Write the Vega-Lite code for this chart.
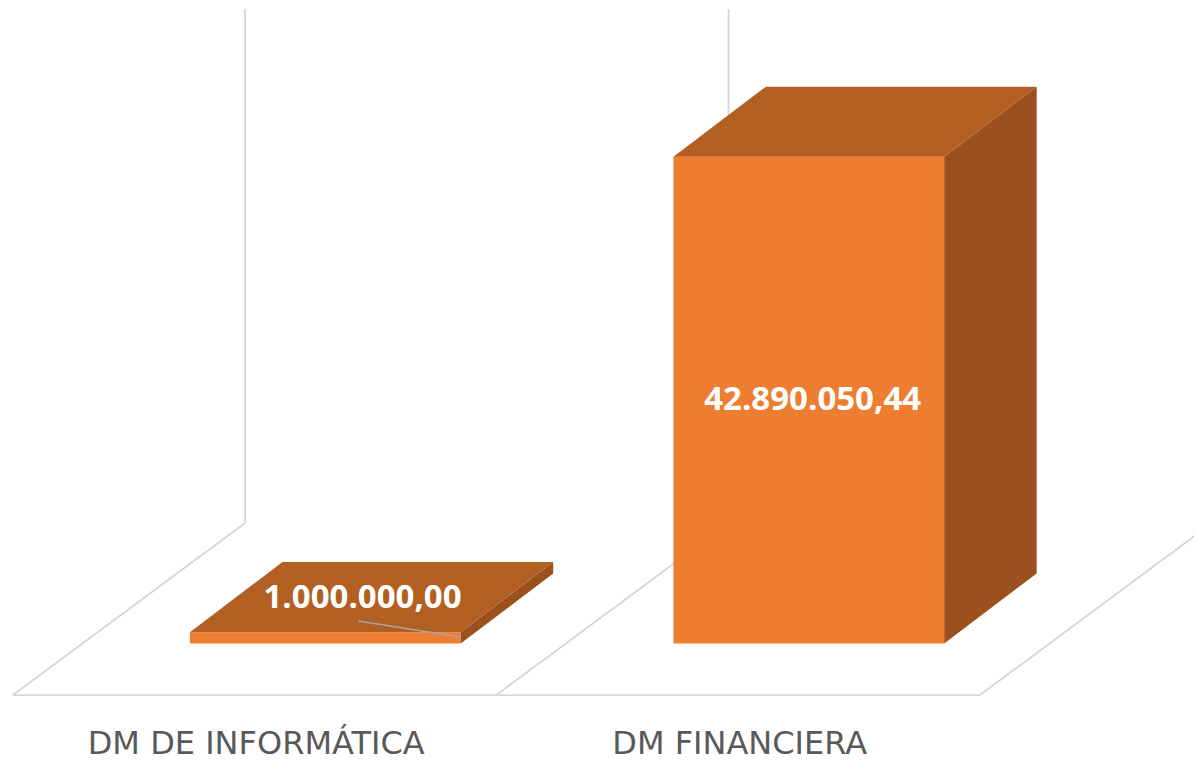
{
  "$schema": "https://vega.github.io/schema/vega-lite/v6.json",
  "width": 1194,
  "height": 762,
  "padding": 0,
  "autosize": {"type": "none"},
  "background": "white",
  "config": {
    "view": {"stroke": null},
    "locale": {"number": {"decimal": ",", "thousands": ".", "grouping": [3], "currency": ["", " €"]}}
  },
  "datasets": {
    "importes": [
      {"departamento": "DM DE INFORMÁTICA", "importe": 1000000},
      {"departamento": "DM FINANCIERA", "importe": 42890050.44}
    ],
    "marco": [{}]
  },
  "data": {"name": "importes"},
  "layer": [
    {
      "data": {"name": "marco"},
      "transform": [
        {"fold": ["w1", "w2", "f1", "f2", "f3", "f4"], "as": ["linea", "dummy"]},
        {"calculate": "{'w1': 0.834, 'w2': 1.834, 'f1': 0.354, 'f2': 1.354, 'f3': 2.354, 'f4': 0.354}[datum.linea]", "as": "ax"},
        {"calculate": "{'w1': 0.834, 'w2': 1.834, 'f1': 0.834, 'f2': 1.834, 'f3': 2.834, 'f4': 2.354}[datum.linea]", "as": "bx"},
        {"calculate": "{'w1': 10620000, 'w2': 10620000, 'f1': -4540000, 'f2': -4540000, 'f3': -4540000, 'f4': -4540000}[datum.linea]", "as": "ay"},
        {"calculate": "{'w1': 55900000, 'w2': 55900000, 'f1': 10620000, 'f2': 10620000, 'f3': 10620000, 'f4': -4540000}[datum.linea]", "as": "by"}
      ],
      "mark": {"type": "rule", "color": "#D6D6D6", "strokeWidth": 1.8},
      "encoding": {
        "x": {"field": "ax", "type": "quantitative", "scale": {"domain": [0.3272, 2.7967], "nice": false, "zero": false}, "axis": null},
        "x2": {"field": "bx"},
        "y": {"field": "ay", "type": "quantitative", "scale": {"domain": [-10440500, 56696000], "nice": false, "zero": false}, "axis": null},
        "y2": {"field": "by"}
      }
    },
    {
      "transform": [
        {"window": [{"op": "row_number", "as": "i"}]},
        {"calculate": "datum.i - 0.28", "as": "xl"},
        {"calculate": "datum.i + 0.28", "as": "xr"},
        {"calculate": "0", "as": "base"}
      ],
      "mark": {"type": "rect", "color": "#ED7D31"},
      "encoding": {
        "x": {"field": "xl", "type": "quantitative", "scale": {"domain": [0.3272, 2.7967], "nice": false, "zero": false}, "axis": null},
        "x2": {"field": "xr"},
        "y": {"field": "base", "type": "quantitative", "scale": {"domain": [-10440500, 56696000], "nice": false, "zero": false}, "axis": null},
        "y2": {"field": "importe"}
      }
    },
    {
      "transform": [
        {"window": [{"op": "row_number", "as": "i"}]},
        {"calculate": "datum.importe", "as": "front"},
        {"calculate": "datum.importe + 6170000", "as": "back"},
        {"fold": ["front", "back"], "as": ["cara", "sy2"]},
        {"calculate": "datum.cara == 'back' ? 6170000 : 0", "as": "sy1"},
        {"calculate": "datum.i + 0.28 + (datum.cara == 'back' ? 0.1913 : 0)", "as": "sx"}
      ],
      "mark": {"type": "area", "color": "#9C501E", "orient": "vertical"},
      "encoding": {
        "x": {"field": "sx", "type": "quantitative", "scale": {"domain": [0.3272, 2.7967], "nice": false, "zero": false}, "axis": null},
        "y": {"field": "sy2", "type": "quantitative", "scale": {"domain": [-10440500, 56696000], "nice": false, "zero": false}, "axis": null},
        "y2": {"field": "sy1"},
        "detail": {"field": "departamento", "type": "nominal"}
      }
    },
    {
      "transform": [
        {"window": [{"op": "row_number", "as": "i"}]},
        {"calculate": "datum.importe", "as": "front"},
        {"calculate": "datum.importe + 6170000", "as": "back"},
        {"fold": ["front", "back"], "as": ["cara", "ty"]},
        {"calculate": "datum.i - 0.28 + (datum.cara == 'back' ? 0.1913 : 0)", "as": "tx1"},
        {"calculate": "datum.i + 0.28 + (datum.cara == 'back' ? 0.1913 : 0)", "as": "tx2"}
      ],
      "mark": {"type": "area", "color": "#B45F22", "orient": "horizontal"},
      "encoding": {
        "y": {"field": "ty", "type": "quantitative", "scale": {"domain": [-10440500, 56696000], "nice": false, "zero": false}, "axis": null},
        "x": {"field": "tx1", "type": "quantitative", "scale": {"domain": [0.3272, 2.7967], "nice": false, "zero": false}, "axis": null},
        "x2": {"field": "tx2"},
        "detail": {"field": "departamento", "type": "nominal"}
      }
    },
    {
      "transform": [
        {"window": [{"op": "row_number", "as": "i"}]},
        {"filter": "datum.importe < 5000000"},
        {"calculate": "datum.i + 0.068", "as": "lx1"},
        {"calculate": "datum.i + 0.279", "as": "lx2"},
        {"calculate": "datum.importe + 980000", "as": "ly1"},
        {"calculate": "datum.importe * 0.57", "as": "ly2"}
      ],
      "mark": {"type": "rule", "color": "#A6A6A6", "strokeWidth": 1.5},
      "encoding": {
        "x": {"field": "lx1", "type": "quantitative", "scale": {"domain": [0.3272, 2.7967], "nice": false, "zero": false}, "axis": null},
        "x2": {"field": "lx2"},
        "y": {"field": "ly1", "type": "quantitative", "scale": {"domain": [-10440500, 56696000], "nice": false, "zero": false}, "axis": null},
        "y2": {"field": "ly2"}
      }
    },
    {
      "transform": [
        {"window": [{"op": "row_number", "as": "i"}]},
        {"calculate": "datum.importe < 5000000 ? datum.i + 0.077 : datum.i + 0.008", "as": "vx"},
        {"calculate": "datum.importe < 5000000 ? datum.importe + 3035000 : datum.importe / 2", "as": "vy"}
      ],
      "mark": {"type": "text", "color": "white", "font": "Open Sans", "fontWeight": "bold", "fontSize": 33, "align": "center", "baseline": "middle"},
      "encoding": {
        "x": {"field": "vx", "type": "quantitative", "scale": {"domain": [0.3272, 2.7967], "nice": false, "zero": false}, "axis": null},
        "y": {"field": "vy", "type": "quantitative", "scale": {"domain": [-10440500, 56696000], "nice": false, "zero": false}, "axis": null},
        "text": {"field": "importe", "type": "quantitative", "format": ",.2f"}
      }
    },
    {
      "transform": [
        {"window": [{"op": "row_number", "as": "i"}]},
        {"calculate": "datum.i - 0.143", "as": "cx"},
        {"calculate": "-8855000", "as": "cy"}
      ],
      "mark": {"type": "text", "color": "#595959", "font": "DejaVu Sans", "fontSize": 32, "align": "center", "baseline": "middle"},
      "encoding": {
        "x": {"field": "cx", "type": "quantitative", "scale": {"domain": [0.3272, 2.7967], "nice": false, "zero": false}, "axis": null},
        "y": {"field": "cy", "type": "quantitative", "scale": {"domain": [-10440500, 56696000], "nice": false, "zero": false}, "axis": null},
        "text": {"field": "departamento", "type": "nominal"}
      }
    }
  ]
}
